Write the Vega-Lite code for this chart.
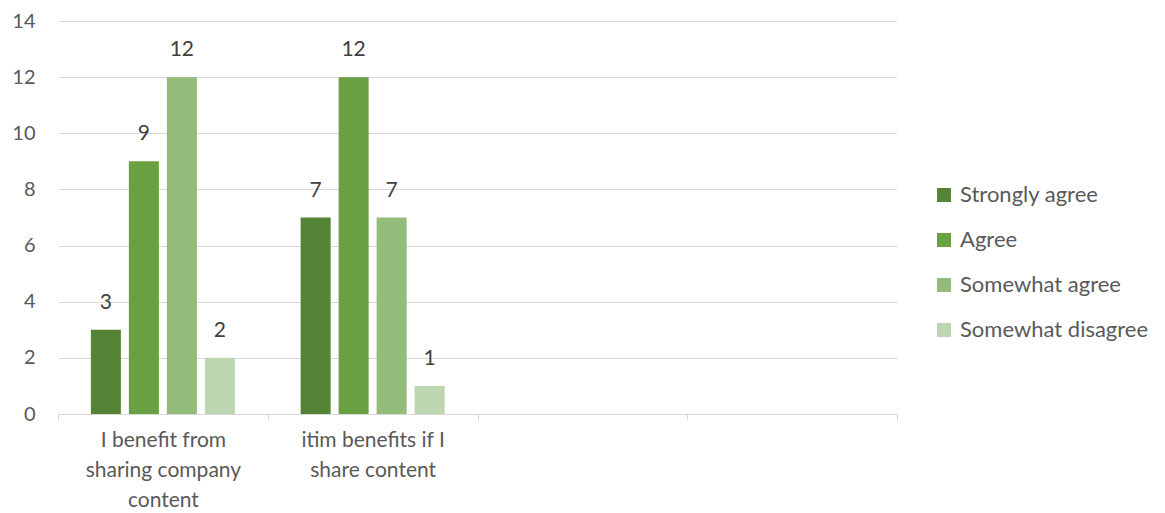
{
  "$schema": "https://vega.github.io/schema/vega-lite/v6.json",
  "width": 839,
  "height": 393,
  "autosize": {"type": "none"},
  "padding": {"left": 58, "top": 21, "right": 268, "bottom": 99},
  "background": "white",
  "config": {"view": {"stroke": null}, "font": "Lato"},
  "data": {"values": [
    {"q": "I benefit from sharing company content", "r": "Strongly agree", "v": 3},
    {"q": "I benefit from sharing company content", "r": "Agree", "v": 9},
    {"q": "I benefit from sharing company content", "r": "Somewhat agree", "v": 12},
    {"q": "I benefit from sharing company content", "r": "Somewhat disagree", "v": 2},
    {"q": "itim benefits if I share content", "r": "Strongly agree", "v": 7},
    {"q": "itim benefits if I share content", "r": "Agree", "v": 12},
    {"q": "itim benefits if I share content", "r": "Somewhat agree", "v": 7},
    {"q": "itim benefits if I share content", "r": "Somewhat disagree", "v": 1}
  ]},
  "encoding": {
    "x": {
      "field": "q", "type": "nominal",
      "scale": {"domain": ["I benefit from sharing company content", "itim benefits if I share content", "e1", "e2"], "paddingInner": 0, "paddingOuter": 0},
      "axis": {
        "title": null, "labelAngle": 0, "tickBand": "extent", "domainColor": "#d9d9d9", "tickColor": "#d9d9d9", "tickSize": 6,
        "labelFontSize": 21, "labelColor": "#595959", "labelPadding": 9, "labelLineHeight": 30,
        "labelExpr": "datum.value == 'I benefit from sharing company content' ? ['I benefit from', 'sharing company', 'content'] : datum.value == 'itim benefits if I share content' ? ['itim benefits if I', 'share content'] : ''"
      }
    },
    "xOffset": {"field": "r", "type": "nominal", "sort": ["Strongly agree", "Agree", "Somewhat agree", "Somewhat disagree"], "scale": {"paddingInner": 0.21, "paddingOuter": 0.865}},
    "y": {
      "field": "v", "type": "quantitative",
      "scale": {"domain": [0, 14]},
      "axis": {"title": null, "values": [0, 2, 4, 6, 8, 10, 12, 14], "domain": false, "ticks": false, "gridColor": "#d9d9d9", "labelFontSize": 20, "labelColor": "#595959", "labelPadding": 23, "labelOverlap": false}
    }
  },
  "layer": [
    {
      "mark": {"type": "bar"},
      "encoding": {
        "color": {
          "field": "r", "type": "nominal",
          "sort": ["Strongly agree", "Agree", "Somewhat agree", "Somewhat disagree"],
          "scale": {"domain": ["Strongly agree", "Agree", "Somewhat agree", "Somewhat disagree"], "range": ["#558437", "#69a142", "#93bc7b", "#bed5b1"]},
          "legend": {"title": null, "orient": "none", "legendX": 875, "legendY": 163, "padding": 0, "symbolType": "square", "symbolSize": 196, "symbolStrokeWidth": 0, "labelFontSize": 22, "labelColor": "#595959", "labelLimit": 400, "rowPadding": 23, "labelOffset": 5}
        }
      }
    },
    {
      "mark": {"type": "text", "baseline": "middle", "dy": -27, "fontSize": 21, "color": "#404040"},
      "encoding": {"text": {"field": "v", "type": "quantitative"}}
    }
  ]
}
